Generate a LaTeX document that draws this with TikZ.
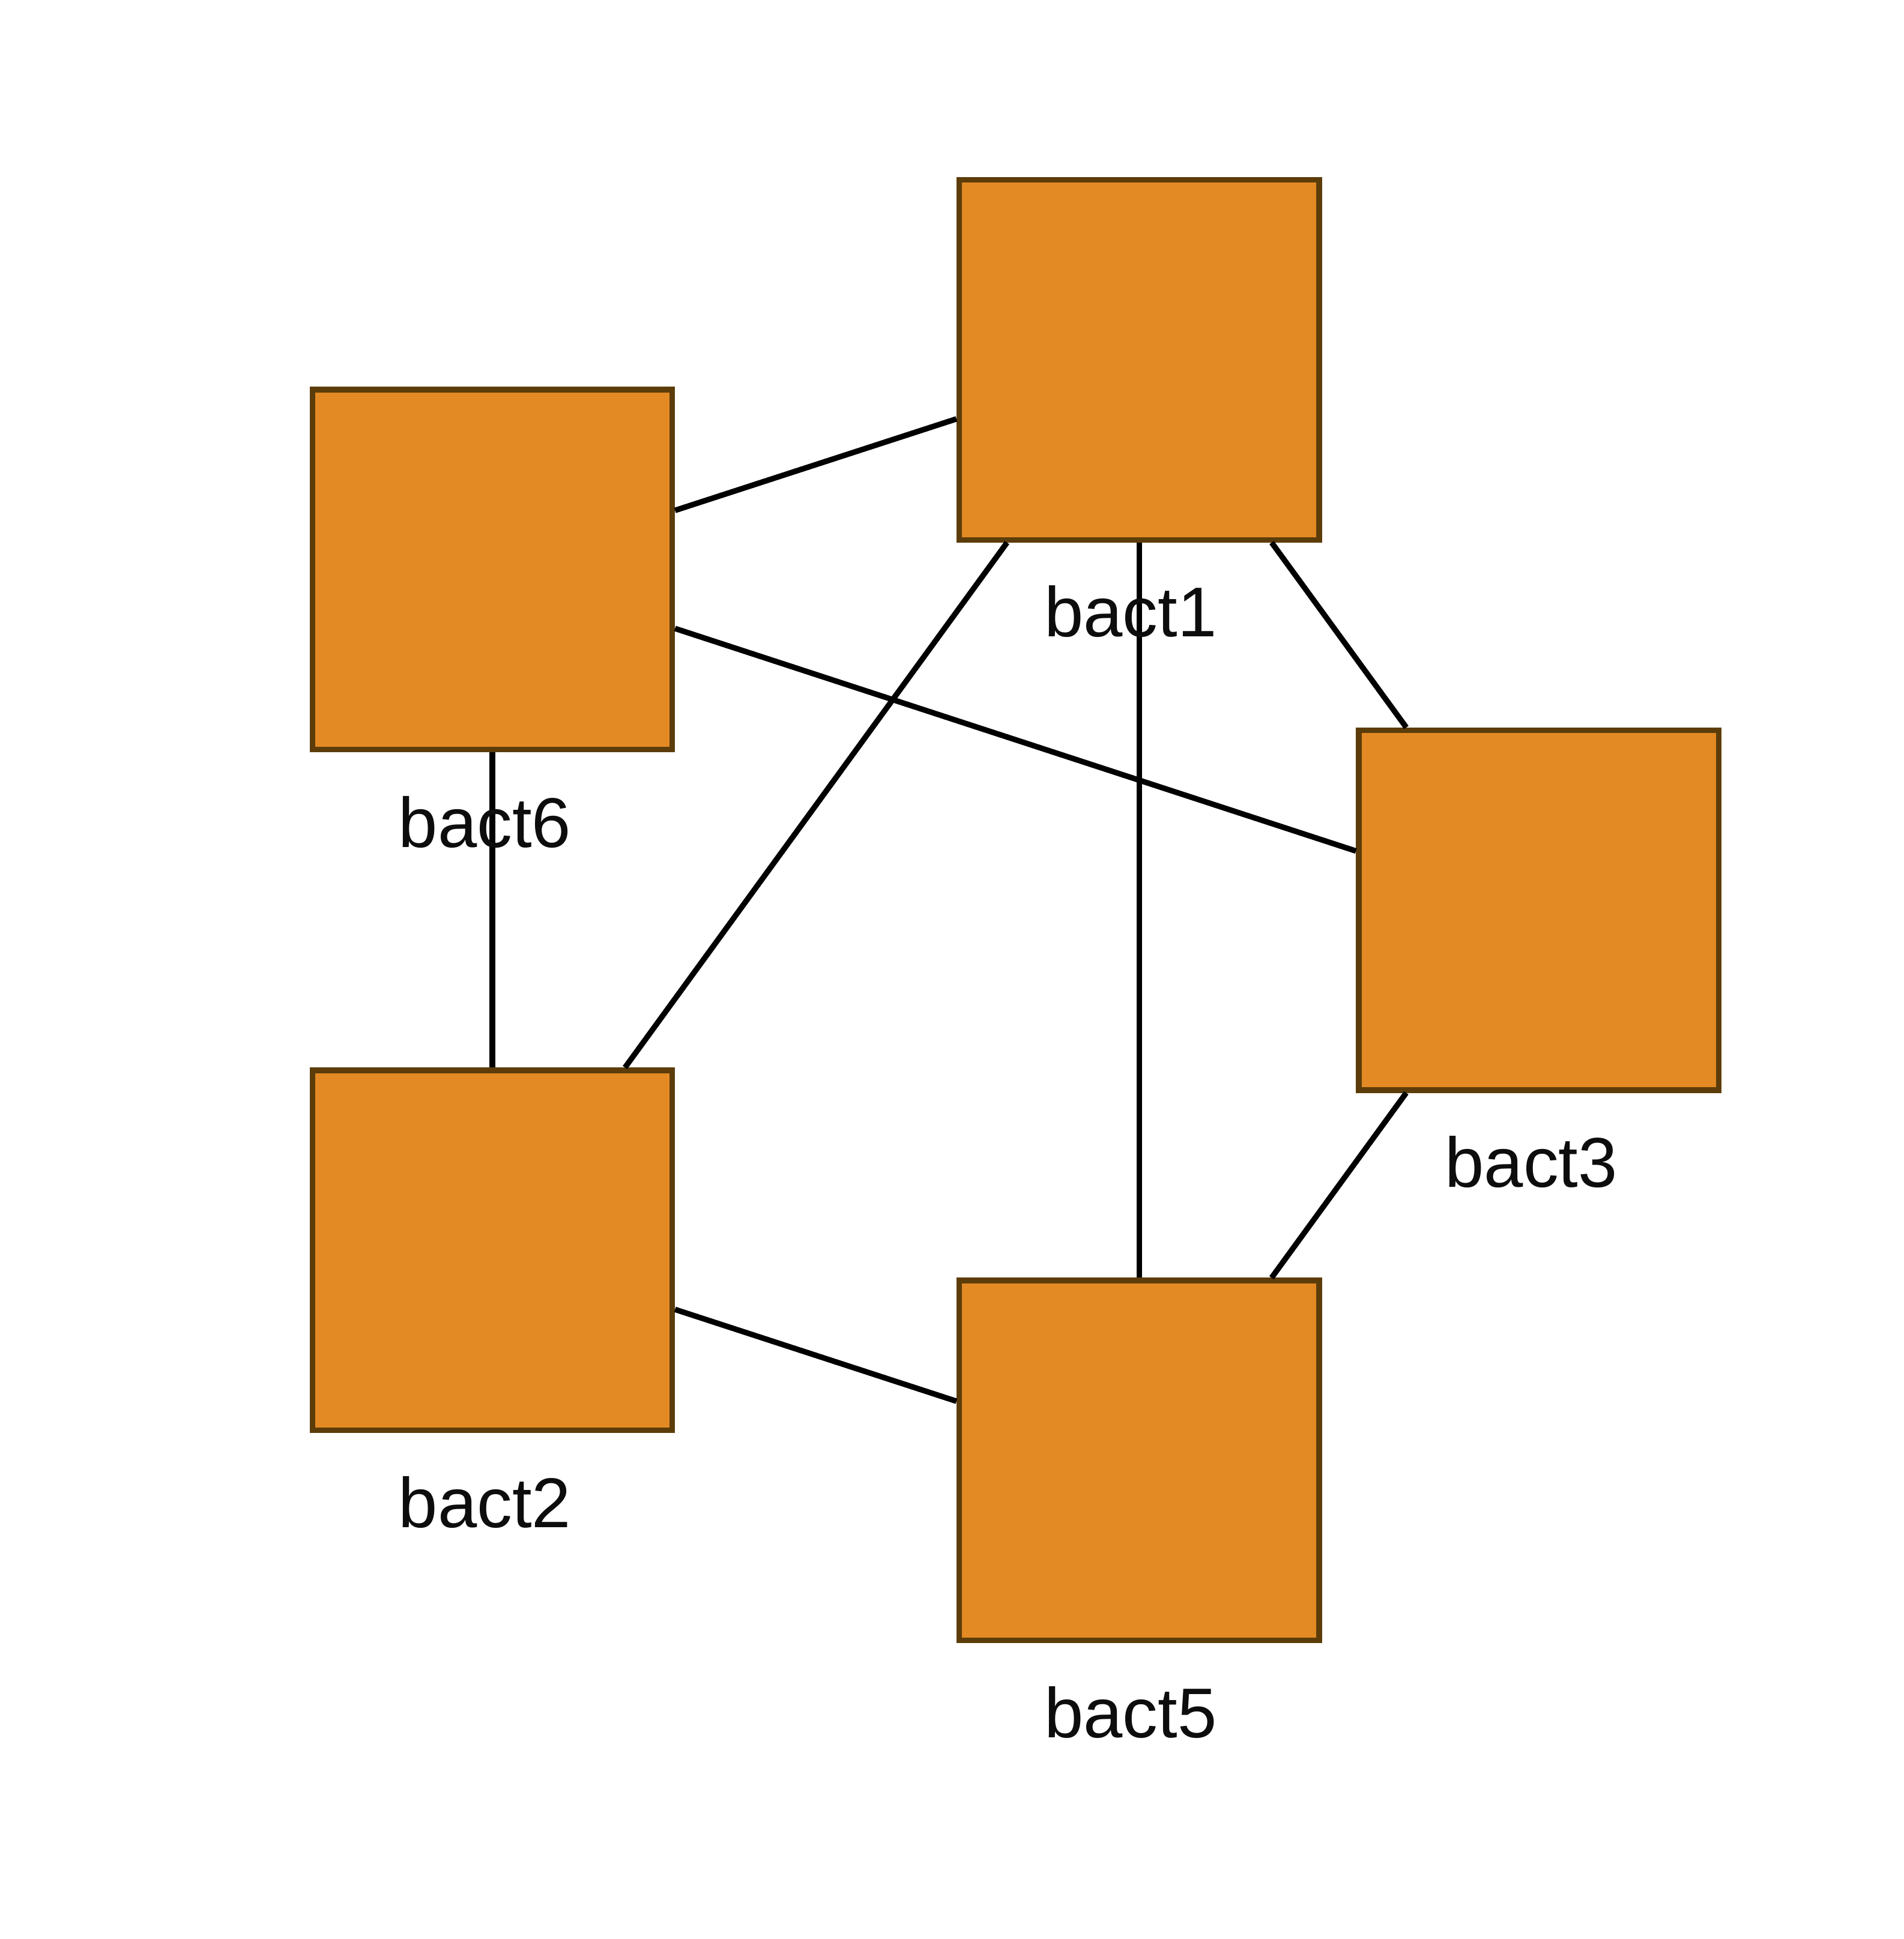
\documentclass[tikz,border=0pt]{standalone}
\usepackage{fontspec}
\setmainfont{Liberation Sans}
\definecolor{boxfill}{RGB}{228,138,36}
\definecolor{boxline}{RGB}{92,61,10}
\begin{document}
\begin{tikzpicture}[x=1pt,y=-1pt,
  bact/.style={rectangle,draw=boxline,fill=boxfill,line width=4.5pt,minimum size=291pt,inner sep=0pt},
  lbl/.style={anchor=base,inner sep=0pt,font=\fontsize{57}{62}\selectfont,text=black!95},
  edge/.style={draw=black,line width=4.5pt}]
\useasboundingbox (0,0) rectangle (1539,1568);
\node[bact] (b1) at (921,291) {};
\node[bact] (b6) at (398,460.5) {};
\node[bact] (b3) at (1244,736) {};
\node[bact] (b2) at (398,1011) {};
\node[bact] (b5) at (921,1181) {};
\draw[edge] (b6) -- (b1);
\draw[edge] (b1) -- (b2);
\draw[edge] (b1) -- (b3);
\draw[edge] (b1) -- (b5);
\draw[edge] (b6) -- (b3);
\draw[edge] (b6) -- (b2);
\draw[edge] (b2) -- (b5);
\draw[edge] (b3) -- (b5);
\node[lbl] (l1) at (914,515) {bact1};
\node[lbl] (l6) at (392,685) {bact6};
\node[lbl] (l3) at (1238,960) {bact3};
\node[lbl] (l2) at (392,1235) {bact2};
\node[lbl] (l5) at (914,1405) {bact5};
\end{tikzpicture}
\end{document}
